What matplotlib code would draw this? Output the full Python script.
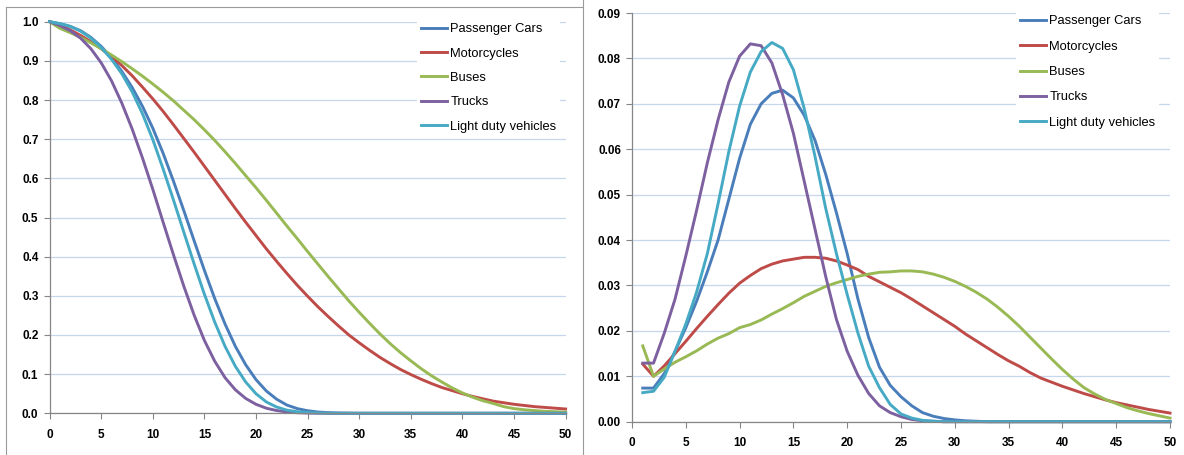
import matplotlib.pyplot as plt
from matplotlib.lines import Line2D

plt.rcParams["font.family"] = ["Liberation Sans", "DejaVu Sans"]

series_names = ["Passenger Cars", "Motorcycles", "Buses", "Trucks", "Light duty vehicles"]
series_colors = ["#4A7EBB", "#BE4B48", "#98B954", "#7D60A0", "#46AAC5"]

# left chart: share still in service by age (0..50)
age_survival = list(range(0, 51))
cars_survival = [
    1.0, 0.995, 0.988, 0.977, 0.96, 0.937, 0.908, 0.873, 0.832, 0.784,
    0.728, 0.664, 0.593, 0.518, 0.441, 0.365, 0.293, 0.228, 0.171, 0.124,
    0.086, 0.057, 0.036, 0.021, 0.012, 0.0065, 0.0033, 0.0016, 0.0007, 0.0003,
    0.0001,
] + [0.0] * 20
moto_survival = [
    1.0, 0.991, 0.979, 0.965, 0.949, 0.931, 0.911, 0.888, 0.862, 0.833,
    0.803, 0.771, 0.737, 0.702, 0.667, 0.631, 0.595, 0.559, 0.523, 0.488,
    0.454, 0.42, 0.388, 0.357, 0.327, 0.299, 0.272, 0.247, 0.223, 0.2,
    0.18, 0.161, 0.143, 0.127, 0.112, 0.099, 0.087, 0.076, 0.066, 0.058,
    0.05, 0.043, 0.037, 0.031, 0.027, 0.023, 0.02, 0.017, 0.015, 0.013,
    0.011,
]
bus_survival = [
    1.0, 0.983, 0.972, 0.96, 0.946, 0.931, 0.915, 0.898, 0.88, 0.861,
    0.841, 0.82, 0.798, 0.774, 0.75, 0.724, 0.697, 0.668, 0.638, 0.607,
    0.576, 0.544, 0.511, 0.478, 0.446, 0.413, 0.381, 0.349, 0.318, 0.287,
    0.258, 0.23, 0.203, 0.178, 0.155, 0.134, 0.114, 0.096, 0.08, 0.065,
    0.052, 0.041, 0.032, 0.025, 0.017, 0.012, 0.009, 0.007, 0.005, 0.004,
    0.003,
]
truck_survival = [
    1.0, 0.99, 0.977, 0.958, 0.931, 0.895, 0.849, 0.792, 0.726, 0.652,
    0.572, 0.488, 0.405, 0.325, 0.251, 0.186, 0.133, 0.091, 0.06, 0.038,
    0.023, 0.013, 0.007, 0.0035, 0.0015, 0.0006, 0.0002,
] + [0.0] * 24
ldv_survival = [
    1.0, 0.995, 0.988, 0.976, 0.958, 0.934, 0.904, 0.867, 0.821, 0.765,
    0.699, 0.624, 0.545, 0.463, 0.382, 0.304, 0.233, 0.171, 0.12, 0.08,
    0.05, 0.029, 0.016, 0.008, 0.004, 0.002, 0.001, 0.0004, 0.0001,
] + [0.0] * 22

# right chart: share scrapped at each age (1..50)
age_scrap = list(range(1, 51))
cars_scrap = [
    0.0074, 0.0074, 0.0106, 0.0155, 0.0207, 0.0265, 0.033, 0.04, 0.049, 0.058,
    0.0655, 0.07, 0.0723, 0.073, 0.0713, 0.0675, 0.062, 0.0545, 0.046, 0.037,
    0.027, 0.0185, 0.012, 0.008, 0.0055, 0.0035, 0.002, 0.0012, 0.0007, 0.0004,
    0.0002, 0.0001,
] + [0.0] * 18
moto_scrap = [
    0.0127, 0.01, 0.0123, 0.015, 0.0177, 0.0205, 0.0232, 0.0258, 0.0283, 0.0305,
    0.0322, 0.0337, 0.0347, 0.0354, 0.0358, 0.0362, 0.0362, 0.036, 0.0354, 0.0345,
    0.0335, 0.032, 0.0308, 0.0296, 0.0284, 0.027, 0.0255, 0.024, 0.0225, 0.021,
    0.0193, 0.0178, 0.0163, 0.0148, 0.0134, 0.0122, 0.0108, 0.0096, 0.0087, 0.0078,
    0.007, 0.0062, 0.0055, 0.0048, 0.0042, 0.0037, 0.0032, 0.0027, 0.0023, 0.0019,
]
bus_scrap = [
    0.0167, 0.01, 0.0116, 0.0131, 0.0143, 0.0156, 0.0171, 0.0184, 0.0194, 0.0207,
    0.0214, 0.0224, 0.0237, 0.0249, 0.0262, 0.0276, 0.0287, 0.0298, 0.0306, 0.0313,
    0.032, 0.0325, 0.0329, 0.033, 0.0332, 0.0332, 0.033, 0.0325, 0.0318, 0.0309,
    0.0298, 0.0285, 0.027, 0.0252, 0.0232, 0.021, 0.0186, 0.0162, 0.0138, 0.0115,
    0.0094, 0.0075, 0.0061, 0.0049, 0.004, 0.0031, 0.0024, 0.0018, 0.0013, 0.0008,
]
truck_scrap = [
    0.0129, 0.0129, 0.0195, 0.027, 0.0365, 0.0465, 0.057, 0.0665, 0.0748, 0.0805,
    0.0832, 0.0828, 0.079, 0.072, 0.0635, 0.053, 0.0425, 0.032, 0.0225, 0.0155,
    0.0102, 0.0062, 0.0035, 0.002, 0.0011, 0.0005, 0.0002, 0.0001,
] + [0.0] * 22
ldv_scrap = [
    0.0064, 0.0067, 0.0098, 0.0155, 0.0215, 0.0285, 0.037, 0.048, 0.0595, 0.0695,
    0.077, 0.0815, 0.0835, 0.0822, 0.0775, 0.069, 0.0585, 0.047, 0.037, 0.028,
    0.0195, 0.0122, 0.0075, 0.0038, 0.0017, 0.0008, 0.0003, 0.0001,
] + [0.0] * 22

survival_series = [cars_survival, moto_survival, bus_survival, truck_survival, ldv_survival]
scrap_series = [cars_scrap, moto_scrap, bus_scrap, truck_scrap, ldv_scrap]

W, H = 1184, 455
fig = plt.figure(figsize=(W / 100, H / 100), dpi=100)


def axes_from_pixels(left, top, right, bottom):
    return fig.add_axes([left / W, 1 - bottom / H, (right - left) / W, (bottom - top) / H])


def style_axes(ax, y_ticks, y_fmt):
    x_ticks = list(range(0, 51, 5))
    ax.set_xlim(0, 50)
    ax.set_ylim(y_ticks[0], y_ticks[-1])
    ax.set_xticks(x_ticks)
    ax.set_xticklabels([str(t) for t in x_ticks], fontweight="bold", fontsize=8.5)
    ax.set_yticks(y_ticks)
    ax.set_yticklabels([y_fmt.format(t) for t in y_ticks], fontweight="bold", fontsize=8.5)
    ax.grid(axis="y", color="#c6d6ec", linewidth=0.9)
    ax.set_axisbelow(True)
    for side in ["top", "right"]:
        ax.spines[side].set_visible(False)
    for side in ["left", "bottom"]:
        ax.spines[side].set_color("#868686")
        ax.spines[side].set_linewidth(0.9)
    ax.tick_params(axis="both", direction="out", length=4, width=0.8, color="#868686")
    ax.tick_params(axis="x", pad=7)
    ax.tick_params(axis="y", pad=4)


def add_legend(ax, left_px, top_px, spacing):
    ax.legend(
        loc="upper left",
        bbox_to_anchor=(left_px / W, 1 - top_px / H),
        bbox_transform=fig.transFigure,
        frameon=True,
        fancybox=False,
        edgecolor="none",
        facecolor="white",
        framealpha=1,
        borderpad=0.3,
        handlelength=2.0,
        handletextpad=0.25,
        labelspacing=spacing,
        prop={"size": 9.3},
    )


ax_left = axes_from_pixels(49.6, 21.7, 565.6, 413.3)
for name, color, values in zip(series_names, series_colors, survival_series):
    ax_left.plot(age_survival, values, color=color, linewidth=2.1, label=name, clip_on=False)
style_axes(ax_left, [round(0.1 * i, 1) for i in range(11)], "{:.1f}")
add_legend(ax_left, 411, 13, 0.95)

ax_right = axes_from_pixels(632, 13, 1170, 421.7)
for name, color, values in zip(series_names, series_colors, scrap_series):
    ax_right.plot(age_scrap, values, color=color, linewidth=2.1, label=name, clip_on=False)
style_axes(ax_right, [round(0.01 * i, 2) for i in range(10)], "{:.2f}")
add_legend(ax_right, 1010, 5, 1.03)

# chart frames
frame_color = "#9a9a9a"
fig.add_artist(Line2D([6 / W, 6 / W], [0, 1 - 7 / H], color=frame_color, linewidth=0.8))
fig.add_artist(Line2D([6 / W, 582.5 / W], [1 - 7 / H, 1 - 7 / H], color=frame_color, linewidth=0.8))
fig.add_artist(Line2D([582.5 / W, 582.5 / W], [0, 1], color=frame_color, linewidth=0.8))

fig.savefig("out.png", dpi=100)
